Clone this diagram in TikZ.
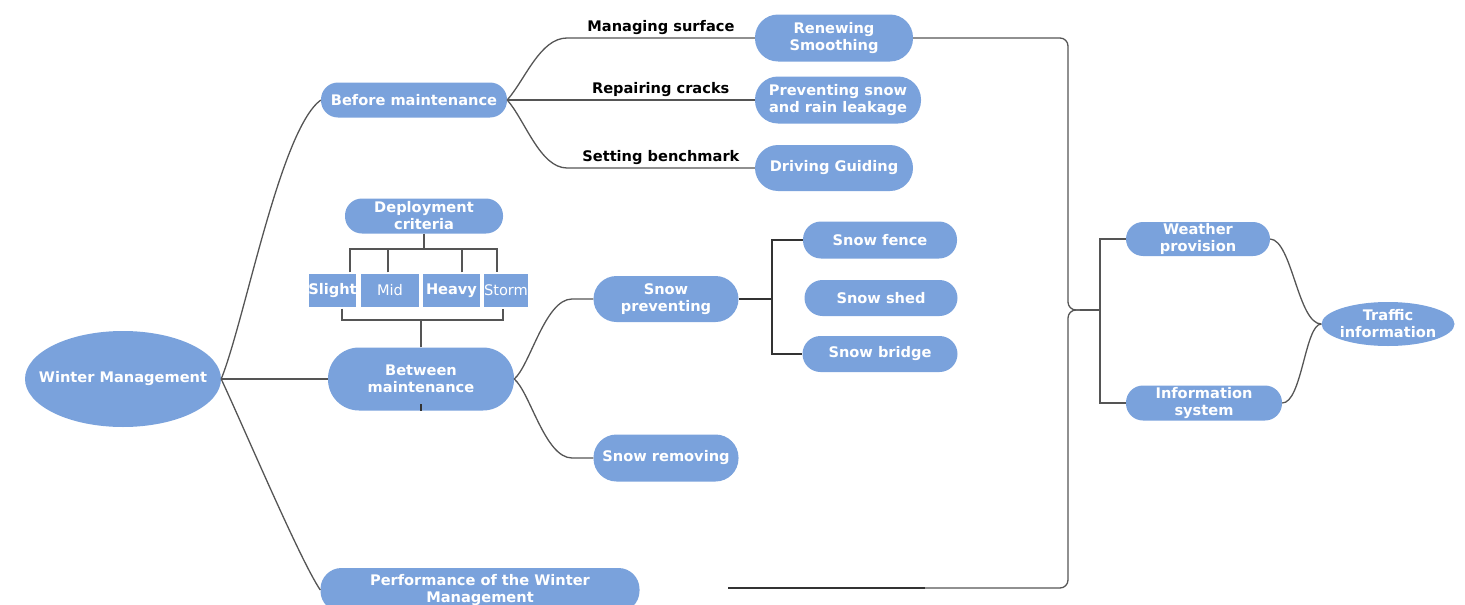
\documentclass[tikz,border=0pt]{standalone}
\usepackage{fontspec}
\setmainfont{DejaVu Sans}
\usetikzlibrary{shapes.geometric}
\definecolor{nodeblue}{HTML}{7AA2DC}
\definecolor{linegray}{HTML}{555555}
\begin{document}
\begin{tikzpicture}[x=1pt,y=-1pt,
  nodetext/.style={font=\bfseries\fontsize{14.6}{17}\selectfont},
  pill/.style={fill=nodeblue,text=white,nodetext,align=center,inner sep=0pt},
  wmell/.style={ellipse,fill=nodeblue,inner sep=0pt},
  elltext/.style={text=white,nodetext,align=center,inner sep=0pt},
  lvl/.style={rectangle,fill=nodeblue,draw=white,line width=1.2pt,text=white,
    minimum height=35pt,inner sep=0pt,font=\fontsize{14.6}{17}\selectfont},
  lbl/.style={text=black,nodetext,above,inner sep=3pt},
  conn/.style={draw=linegray,line width=1.3pt},
  bold conn/.style={draw=black!80,line width=2.4pt}]
\useasboundingbox (0,0) rectangle (1465,605);

% nodes
\node[wmell,minimum width=196pt,minimum height=96pt,
  label={[elltext]center:Winter Management}] (wm) at (123,379) {};
\node[pill,minimum width=186pt,minimum height=35pt,rounded corners=17pt] (bm) at (414,100) {Before maintenance};
\node[pill,minimum width=158pt,minimum height=47pt,rounded corners=23pt] (rs) at (834,38) {Renewing\\Smoothing};
\node[pill,minimum width=166pt,minimum height=47pt,rounded corners=23pt] (ps) at (838,100) {Preventing snow\\and rain leakage};
\node[pill,minimum width=158pt,minimum height=46pt,rounded corners=23pt] (dg) at (834,168) {Driving Guiding};
\node[pill,minimum width=158pt,minimum height=35pt,rounded corners=17pt] (dc) at (424,216) {Deployment\\criteria};
\node[lvl,minimum width=49pt,font=\bfseries\fontsize{14.6}{17}\selectfont] (sl) at (332.5,290.5) {Slight};
\node[lvl,minimum width=60pt] (mi) at (390,290.5) {Mid};
\node[lvl,minimum width=59pt,font=\bfseries\fontsize{14.6}{17}\selectfont] (hv) at (451.5,290.5) {Heavy};
\node[lvl,minimum width=46pt] (sto) at (506,290.5) {Storm};
\node[pill,minimum width=186pt,minimum height=63pt,rounded corners=31pt] (bw) at (421,379) {Between\\maintenance};
\node[pill,minimum width=319pt,minimum height=44pt,rounded corners=21pt] (pf) at (480,590) {Performance of the Winter\\Management};
\node[pill,minimum width=145pt,minimum height=46pt,rounded corners=23pt] (sp) at (666,299) {Snow\\preventing};
\node[pill,minimum width=145pt,minimum height=47pt,rounded corners=23pt] (sr) at (666,458) {Snow removing};
\node[pill,minimum width=154pt,minimum height=37pt,rounded corners=18pt] (sf) at (880,240) {Snow fence};
\node[pill,minimum width=153pt,minimum height=36pt,rounded corners=18pt] (ss) at (881,298) {Snow shed};
\node[pill,minimum width=155pt,minimum height=36pt,rounded corners=18pt] (sb) at (880,354) {Snow bridge};
\node[pill,minimum width=144pt,minimum height=34pt,rounded corners=17pt] (wp) at (1198,239) {Weather\\provision};
\node[pill,minimum width=156pt,minimum height=35pt,rounded corners=17pt] (is) at (1204,403) {Information\\system};
\node[wmell,minimum width=133pt,minimum height=44pt,
  label={[elltext]center:Traffic\\information}] (ti) at (1388,324) {};

% coordinates
\coordinate (j1) at (567,38);
\coordinate (j3) at (567,168);
\coordinate (j4) at (572,299);
\coordinate (j5) at (572,458);
\coordinate (sfork) at (772,299);
\coordinate (tip) at (1080,310);
\coordinate (fork) at (1100,310);
\coordinate (pend) at (728,588);

% Winter Management branches
\draw[conn] (wm.east) .. controls (245,320) and (280,130) .. (bm.west);
\draw[conn] (wm.east) -- (bw.west);
\draw[conn] (wm.east) .. controls (245,430) and (300,560) .. (pf.west);

% Before maintenance branches
\draw[conn] (bm.east) .. controls (525,80) and (540,38) .. (j1) -- node[lbl]{Managing surface} (rs.west);
\draw[conn] (bm.east) -- node[lbl,pos=0.62]{Repairing cracks} (ps.west);
\draw[conn] (bm.east) .. controls (525,120) and (540,168) .. (j3) -- node[lbl]{Setting benchmark} (dg.west);

% Deployment criteria bracket
\draw[conn] (dc.south) -- (dc.south |- 0,249);
\draw[conn] (sl.north -| 350,0) -- (350,249) -- (497,249) -- (sto.north -| 497,0);
\draw[conn] (mi.north -| 388,0) -- (388,249);
\draw[conn] (hv.north -| 462,0) -- (462,249);
\draw[conn] (sl.south -| 342,0) -- (342,320) -- (503,320) -- (sto.south -| 503,0);
\draw[conn] (bw.north) -- (bw.north |- 0,320);
\draw[draw=black!80,line width=1.5pt] (bw.south) -- ++(0,-7);

% Between maintenance branches
\draw[conn] (bw.east) .. controls (530,366) and (545,299) .. (j4) -- (sp.west);
\draw[conn] (bw.east) .. controls (530,392) and (545,458) .. (j5) -- (sr.west);

% Snow preventing bracket
\draw[bold conn] (sp.east) -- (sfork);
\draw[bold conn] (sf.west) -| (sfork) |- (sb.west);

% big brace on the right
\draw[conn,rounded corners=8pt] (rs.east) -- (1068,38) -- (1068,310) -- (tip);
\draw[conn,rounded corners=8pt] (tip) -- (1068,310) -- (1068,588) -- (pend);
\draw[bold conn,line width=2.6pt] (pend) -- (925,588);
\draw[conn] (tip) -- (fork);
\draw[conn] (wp.west) -| (fork) |- (is.west);

% to traffic information
\draw[conn] (wp.east) .. controls (1292,240) and (1298,324) .. (ti.west);
\draw[conn] (is.east) .. controls (1302,403) and (1305,324) .. (ti.west);
\end{tikzpicture}
\end{document}
